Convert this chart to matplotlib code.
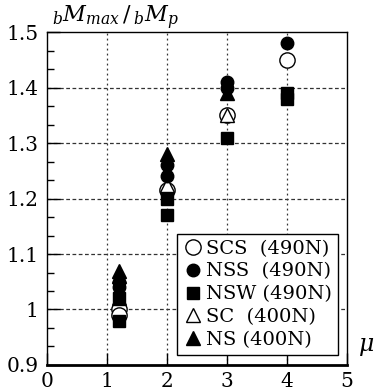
import matplotlib.pyplot as plt
from matplotlib.ticker import FixedLocator

plt.rcParams['font.family'] = ['DejaVu Serif']
plt.rcParams['mathtext.fontset'] = 'dejavuserif'

# data: (mu, bMmax/bMp)
scs_x = [1.2, 1.2, 2, 3, 4]
scs_y = [1.00, 0.99, 1.215, 1.35, 1.45]
nss_x = [1.2, 1.2, 2, 2, 3, 3, 4]
nss_y = [1.05, 1.04, 1.26, 1.24, 1.41, 1.40, 1.48]
nsw_x = [1.2, 1.2, 2, 2, 3, 4, 4]
nsw_y = [1.02, 0.98, 1.20, 1.17, 1.31, 1.39, 1.38]
sc_x = [1.2, 2, 3]
sc_y = [1.02, 1.225, 1.35]
ns_x = [1.2, 1.2, 2, 3]
ns_y = [1.07, 1.06, 1.28, 1.39]

labels = ['SCS  (490N)', 'NSS  (490N)', 'NSW (490N)', 'SC  (400N)', 'NS (400N)']

fig = plt.figure(figsize=(3.74, 3.92), dpi=100)
ax = fig.add_axes([0.126, 0.069, 0.802, 0.849])

ax.plot(scs_x, scs_y, 'o', ms=11, mfc='white', mec='black', mew=1.0, label=labels[0], zorder=3)
ax.plot(nss_x, nss_y, 'o', ms=9, mfc='black', mec='black', label=labels[1], zorder=4)
ax.plot(nsw_x, nsw_y, 's', ms=8.5, mfc='black', mec='black', label=labels[2], zorder=4)
ax.plot(sc_x, sc_y, '^', ms=9.5, mfc='white', mec='black', mew=1.0, label=labels[3], zorder=3)
ax.plot(ns_x, ns_y, '^', ms=9.5, mfc='black', mec='black', label=labels[4], zorder=4)

ax.set_xlim(0, 5)
ax.set_ylim(0.9, 1.5)
ax.set_xticks([0, 1, 2, 3, 4, 5])
ax.set_yticks([0.9, 1.0, 1.1, 1.2, 1.3, 1.4, 1.5])
ax.set_yticklabels(['0.9', '1', '1.1', '1.2', '1.3', '1.4', '1.5'])
ax.yaxis.set_minor_locator(FixedLocator([0.9 + i * 0.1 / 3 for i in range(19)]))
ax.tick_params(axis='both', which='major', direction='in', length=9, width=1,
               labelsize=14.5, top=False, right=False)
ax.tick_params(axis='y', which='minor', direction='in', length=5, width=1)
ax.tick_params(axis='x', pad=5)
ax.tick_params(axis='y', pad=6)

for v in [1, 2, 3, 4]:
    ax.axvline(v, color='#333333', lw=0.9, ls=(0, (1.5, 2.5)), zorder=1)
for v in [1.0, 1.1, 1.2, 1.3, 1.4]:
    ax.axhline(v, color='#333333', lw=0.9, ls=(0, (3, 2)), zorder=1)

ax.spines['bottom'].set_linestyle((0, (1, 1)))
ax.spines['bottom'].set_linewidth(2)
for s in ['top', 'right', 'left']:
    ax.spines[s].set_linewidth(1.0)

leg = ax.legend(loc='lower right', bbox_to_anchor=(0.97, 0.03), fontsize=14,
                frameon=True, fancybox=False, edgecolor='black', framealpha=1,
                handletextpad=0.2, handlelength=1.0, borderpad=0.3,
                labelspacing=0.25, borderaxespad=0)
leg.get_frame().set_linewidth(1.0)

fig.text(0.14, 0.955, r'$_{b}M_{max}\,/\,_{b}M_{p}$', fontsize=16, va='center')
fig.text(0.958, 0.115, r'$\mu$', fontsize=17, va='center')

fig.savefig('out.png', dpi=100)
